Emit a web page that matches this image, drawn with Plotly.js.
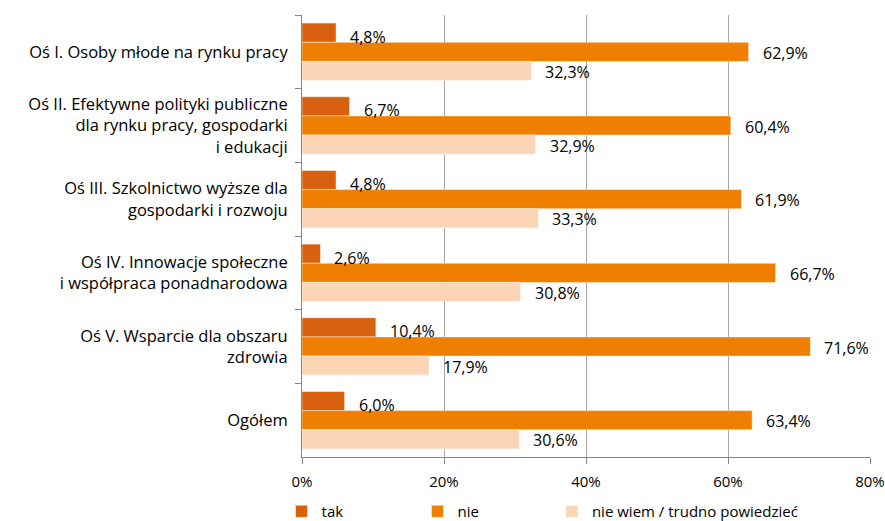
<!DOCTYPE html>
<html>
<head>
<meta charset="utf-8">
<script src="https://cdn.plot.ly/plotly-3.0.1.min.js"></script>
<style>html,body{margin:0;padding:0;background:#fff;}#chart{width:885px;height:521px;}</style>
</head>
<body>
<div id="chart"></div>
<script>
const categories = [
  "Oś I. Osoby młode na rynku pracy",
  "Oś II. Efektywne polityki publiczne<br>dla rynku pracy, gospodarki<br>i edukacji",
  "Oś III. Szkolnictwo wyższe dla<br>gospodarki i rozwoju",
  "Oś IV. Innowacje społeczne<br>i współpraca ponadnarodowa",
  "Oś V. Wsparcie dla obszaru<br>zdrowia",
  "Ogółem"
];
const seriesNames = ["tak", "nie", "nie wiem / trudno powiedzieć"];
const tak = [4.8, 6.7, 4.8, 2.6, 10.4, 6.0];
const nie = [62.9, 60.4, 61.9, 66.7, 71.6, 63.4];
const nieWiem = [32.3, 32.9, 33.3, 30.8, 17.9, 30.6];
const xTickVals = [0, 20, 40, 60, 80];
const xTickText = ["0%", "20%", "40%", "60%", "80%"];

const colors = ["#D9600E", "#EF7F00", "#FBD5B5"];
const allSeries = [tak, nie, nieWiem];
const legendIds = ["legend", "legend2", "legend3"];
const FONT = "Open Sans, Liberation Sans, sans-serif";

const traces = allSeries.map((vals, k) => ({
  type: "bar",
  orientation: "h",
  name: seriesNames[k],
  legend: legendIds[k],
  x: vals,
  y: categories,
  marker: {color: colors[k], line: {color: "rgba(255,255,255,0.45)", width: 1}},
  hoverinfo: "x+name"
}));

const bargap = 0.22;
const barW = (1 - bargap) / 3;
const fmt = v => v.toFixed(1).replace(".", ",") + "%";
const annotations = [];
allSeries.forEach((vals, k) => {
  vals.forEach((v, i) => {
    annotations.push({
      x: v, y: i + (k - 1) * barW, xref: "x", yref: "y",
      text: fmt(v), showarrow: false, xanchor: "left", yanchor: "middle",
      xshift: 12, yshift: k === 0 ? -4 : -1,
      font: {family: FONT, size: 16, color: "#000"}
    });
  });
});

const legendBase = {
  orientation: "h", yref: "container", y: 0.018, yanchor: "middle",
  xanchor: "left", itemwidth: 30,
  font: {family: FONT, size: 15, color: "#000"},
  bgcolor: "rgba(0,0,0,0)", borderwidth: 0
};

const layout = {
  width: 885, height: 521,
  margin: {l: 302, r: 15, t: 15, b: 64},
  paper_bgcolor: "#fff", plot_bgcolor: "#fff",
  barmode: "group", bargap: bargap, bargroupgap: 0,
  font: {family: FONT, size: 15, color: "#000"},
  xaxis: {
    range: [0, 80], tickvals: xTickVals, ticktext: xTickText,
    showgrid: true, gridcolor: "#A6A6A6", gridwidth: 1,
    showline: true, linecolor: "#868686", linewidth: 1,
    ticks: "outside", ticklen: 6, tickcolor: "#868686",
    ticklabelstandoff: 5, ticklabeloverflow: "allow",
    zeroline: false, fixedrange: true,
    tickfont: {family: FONT, size: 15, color: "#000"}
  },
  yaxis: {
    type: "category", autorange: "reversed",
    showline: true, linecolor: "#868686", linewidth: 1,
    ticks: "outside", tickson: "boundaries", ticklen: 6, tickcolor: "#868686",
    ticklabelstandoff: 10,
    showgrid: false, zeroline: false, fixedrange: true,
    tickfont: {family: FONT, size: 16.5, color: "#000"}
  },
  showlegend: true,
  legend: Object.assign({}, legendBase, {x: -0.036}),
  legend2: Object.assign({}, legendBase, {x: 0.2033}),
  legend3: Object.assign({}, legendBase, {x: 0.44}),
  annotations: annotations
};

Plotly.newPlot("chart", traces, layout, {displayModeBar: false, staticPlot: true});
</script>
</body>
</html>
